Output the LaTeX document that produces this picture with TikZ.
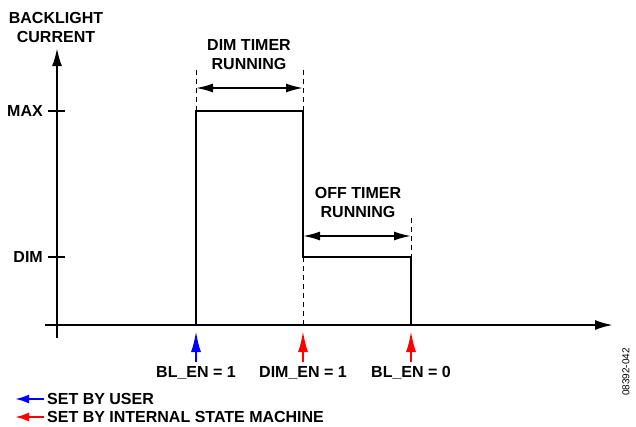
\documentclass[tikz,border=0pt]{standalone}
\usepackage{fontspec}
\setmainfont{Liberation Sans}
\usetikzlibrary{positioning,arrows.meta,calc}

\begin{document}
\begin{tikzpicture}[
  x=1pt, y=-1pt,
  every node/.style={font=\fontsize{16}{19}\selectfont\bfseries, align=center,
    inner sep=0pt},
  axis/.style={line width=2.2pt, -{Latex[length=18pt,width=10pt]}},
  pulse/.style={line width=2.5pt},
  guide/.style={line width=0.8pt, dash pattern=on 5pt off 4pt},
  span/.style={line width=1.8pt,
    {Latex[length=17pt,width=9pt]}-{Latex[length=17pt,width=9pt]}},
  event/.style={line width=2.2pt, -{Latex[length=21pt,width=10pt]}},
  legend/.style={line width=2.2pt, -{Latex[length=14pt,width=9pt]}}
]
  \useasboundingbox (0,0) rectangle (636,426);

  % axes
  \coordinate (xstart) at (45,325);
  \coordinate (xend)   at (613,325);
  \coordinate (ystart) at (57,338);
  \coordinate (yend)   at (57,48);
  \draw[axis] (xstart) -- (xend);
  \draw[axis] (ystart) -- (yend);
  \node (ylbl) at (56,27) {BACKLIGHT\\CURRENT};

  % levels
  \coordinate (maxa) at (48,111);  \coordinate (maxb) at (65,111);
  \coordinate (dima) at (48,257);  \coordinate (dimb) at (65,257);
  \draw[pulse] (maxa) -- (maxb);
  \draw[pulse] (dima) -- (dimb);
  \node (maxlbl) [left=5pt of maxa] {MAX};
  \node (dimlbl) [left=5pt of dima] {DIM};

  % pulse
  \coordinate (p0) at (196,325);
  \coordinate (p1) at (196,111);
  \coordinate (p2) at (303,111);
  \coordinate (p3) at (303,257);
  \coordinate (p4) at (411,257);
  \coordinate (p5) at (411,325);
  \draw[pulse] (p0) -- (p1) -- (p2) -- (p3) -- (p4) -- (p5);

  % timers
  \coordinate (g1) at (196,70);
  \coordinate (g2) at (303,70);
  \coordinate (g3) at (411,218);
  \draw[guide] (g1) -- (p1);
  \draw[guide] (g2) -- (p2);
  \draw[guide] (p3) -- (303,325);
  \draw[guide] (g3) -- (p4);
  \draw[span] (196,88) -- (303,88);
  \draw[span] (303,236) -- (411,236);
  \node (dimtmr) at (249,55) {DIM TIMER\\RUNNING};
  \node (offtmr) at (358,202) {OFF TIMER\\RUNNING};

  % events
  \coordinate (e1) at (196,362);
  \coordinate (e2) at (303,362);
  \coordinate (e3) at (411,362);
  \draw[event, blue] (e1) -- (196,331);
  \draw[event, red]  (e2) -- (303,331);
  \draw[event, red]  (e3) -- (411,331);
  \node (blon)  [below=4pt of e1] {BL\_EN = 1};
  \node (dimon) [below=4pt of e2] {DIM\_EN = 1};
  \node (bloff) [below=4pt of e3] {BL\_EN = 0};

  % legend
  \coordinate (lu) at (44,399);
  \coordinate (li) at (44,417);
  \draw[legend, blue] (lu) -- (15,399);
  \draw[legend, red]  (li) -- (15,417);
  \node (usr) [right=3pt of lu] {SET BY USER};
  \node (ism) [right=3pt of li] {SET BY INTERNAL STATE MACHINE};

  \node (figid) [rotate=90, font=\fontsize{10}{12}\selectfont] at (626,372) {08392-042};
\end{tikzpicture}
\end{document}
